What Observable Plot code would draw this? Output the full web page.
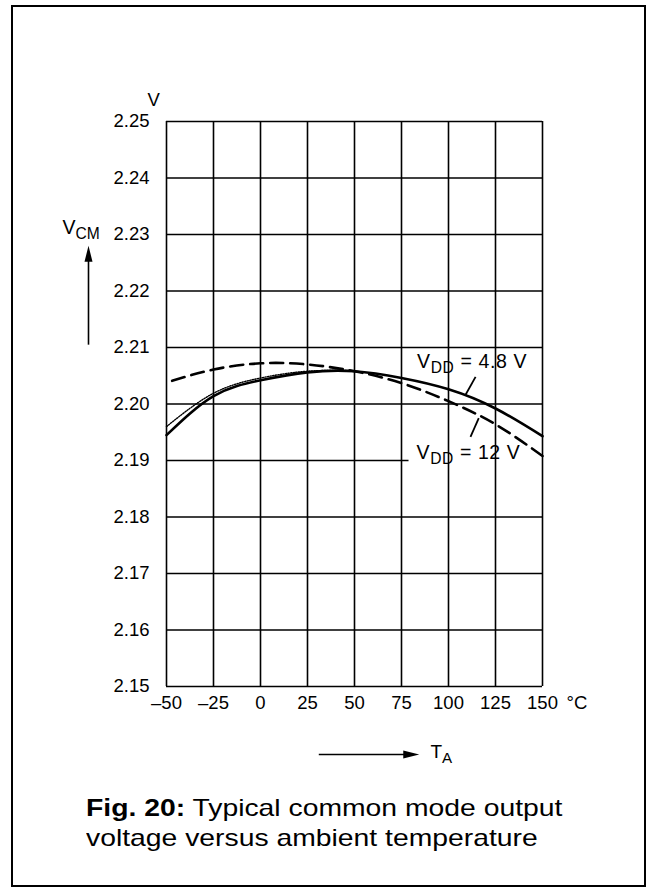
<!DOCTYPE html>
<html>
<head>
<meta charset="utf-8">
<script src="https://cdn.jsdelivr.net/npm/d3@7"></script>
<script src="https://cdn.jsdelivr.net/npm/@observablehq/plot@0.6"></script>
<style>
  html, body { margin: 0; padding: 0; background: #fff; }
  #page { position: relative; width: 657px; height: 892px; overflow: hidden; }
  #chart { position: absolute; left: 0; top: 0; }
  #border { position: absolute; left: 11px; top: 5px; width: 635px; height: 882px;
            border: 2px solid #000; box-sizing: border-box; z-index: 2; pointer-events: none; }
  #caption { position: absolute; left: 86px; top: 793px; white-space: nowrap;
             font-family: "Liberation Sans", Arial, sans-serif; font-size: 24px; line-height: 30px;
             color: #000; transform: scaleX(1.18); transform-origin: left top; }
  #caption b { font-weight: bold; }
</style>
</head>
<body>
<div id="page">
  <div id="chart"></div>
  <div id="border"></div>
  <div id="caption"><b>Fig. 20:</b> Typical common mode output<br>voltage versus ambient temperature</div>
</div>
<script>
// ---- data ----
const temps48 = [-50, -25, 0, 25, 50, 75, 100, 125, 150];
const vcm48   = [2.1945, 2.2014, 2.2042, 2.2056, 2.2058, 2.2046, 2.2026, 2.1992, 2.1943];

const temps12 = [-47, -25, 0, 25, 50, 75, 100, 125, 150];
const vcm12   = [2.2041, 2.2061, 2.2072, 2.2070, 2.2058, 2.2037, 2.2005, 2.1964, 2.1908];

const tempsDotted = [-50, -25, 0, 25, 50];
const vcmDotted   = [2.1960, 2.2019, 2.2046, 2.2058, 2.2059];

const xTicks = [-50, -25, 0, 25, 50, 75, 100, 125, 150];
const yTicks = [2.15, 2.16, 2.17, 2.18, 2.19, 2.20, 2.21, 2.22, 2.23, 2.24, 2.25];

const curveLabels = ["V{DD} = 4.8 V", "V{DD} = 12 V"];
const labelT = [83.3, 83.0];
const labelV = [2.2075, 2.1914];
const leaderT1 = [114.4, 116.1];
const leaderV1 = [2.2048, 2.1975];
const leaderT2 = [109.0, 111.7];
const leaderV2 = [2.2016, 2.1942];

// gap in the 2.19 grid line behind the "12 V" label
const maskT = [79, 150];
const maskV = [2.1896, 2.1904];

// axis arrows
const vcmArrowV = [2.2105, 2.2258];
const vcmHeadV = 2.2266;
const taArrowT = [31, 78];
const taHeadT = 80.2;
const taLabelT = 90.4;

// ---- build ----
const font = '"Liberation Sans", Arial, sans-serif';
const line = (T, V) => T.map((t, i) => ({t, v: V[i]}));

const arrowHead = {
  draw(ctx, size) {
    const r = Math.sqrt(size / Math.PI);
    ctx.moveTo(0, -1.6 * r);
    ctx.lineTo(0.8 * r, 1.6 * r);
    ctx.lineTo(-0.8 * r, 1.6 * r);
    ctx.closePath();
  }
};

const labels = curveLabels.map((s, i) => ({s, t: labelT[i], v: labelV[i]}));
const leaders = leaderT1.map((t, i) => ({t1: t, v1: leaderV1[i], t2: leaderT2[i], v2: leaderV2[i]}));

const chart = Plot.plot({
  width: 657,
  height: 780,
  marginLeft: 166,
  marginRight: 115,
  marginTop: 121,
  marginBottom: 94,
  style: {fontFamily: font, fontSize: "18.5px", color: "#000", background: "transparent"},
  x: {domain: [-50, 150], ticks: xTicks, tickSize: 0, tickPadding: 9,
      tickFormat: d => d < 0 ? "\u2013" + Math.abs(d) : String(d), label: null},
  y: {domain: [2.15, 2.25], ticks: yTicks, tickSize: 0, tickPadding: 17,
      tickFormat: d => d.toFixed(2), label: null},
  marks: [
    Plot.ruleY(yTicks, {stroke: "#000", strokeWidth: 1.6}),
    Plot.rect([{x1: maskT[0], x2: maskT[1], y1: maskV[0], y2: maskV[1]}],
      {x1: "x1", x2: "x2", y1: "y1", y2: "y2", fill: "#fff"}),
    Plot.ruleX(xTicks, {stroke: "#000", strokeWidth: 1.6}),
    Plot.line(line(tempsDotted, vcmDotted), {x: "t", y: "v", curve: "natural",
      stroke: "#000", strokeWidth: 1.4, strokeDasharray: "1.2 1.4"}),
    Plot.line(line(temps48, vcm48), {x: "t", y: "v", curve: "natural",
      stroke: "#000", strokeWidth: 2.6}),
    Plot.line(line(temps12, vcm12), {x: "t", y: "v", curve: "natural",
      stroke: "#000", strokeWidth: 2.6, strokeDasharray: "13 7"}),
    Plot.link(leaders, {x1: "t1", y1: "v1", x2: "t2", y2: "v2", stroke: "#000", strokeWidth: 1.8}),
    Plot.text(labels, {x: "t", y: "v", text: "s", textAnchor: "start", lineAnchor: "middle",
      fontSize: 19.5, fill: "#000"}),
    // unit labels
    Plot.text(["V"], {text: d => d, frameAnchor: "top-left", dx: -19, dy: -21,
      lineAnchor: "middle", fontSize: 18.5}),
    Plot.text(["\u00b0C"], {text: d => d, frameAnchor: "bottom-right", dx: 24, dy: 9,
      textAnchor: "start", lineAnchor: "top", fontSize: 18.5}),
    // V_CM axis title and arrow
    Plot.text(["V{CM}"], {text: d => d, y: () => 2.23, frameAnchor: "left", dx: -104, dy: -7,
      textAnchor: "start", lineAnchor: "middle", fontSize: 19.5}),
    Plot.link([{}], {x1: () => -50, x2: () => -50, y1: () => vcmArrowV[0], y2: () => vcmArrowV[1],
      dx: -78, stroke: "#000", strokeWidth: 1.6}),
    Plot.dot([{}], {x: () => -50, y: () => vcmHeadV, dx: -78, symbol: arrowHead, r: 5,
      fill: "#000", stroke: "none"}),
    // T_A axis title and arrow
    Plot.link([{}], {x1: () => taArrowT[0], x2: () => taArrowT[1], y1: () => 2.15, y2: () => 2.15,
      dy: 68, stroke: "#000", strokeWidth: 1.6}),
    Plot.dot([{}], {x: () => taHeadT, y: () => 2.15, dy: 68, symbol: arrowHead, r: 5, rotate: 90,
      fill: "#000", stroke: "none"}),
    Plot.text(["T{A}"], {text: d => d, x: () => taLabelT, y: () => 2.15, dy: 65,
      textAnchor: "start", lineAnchor: "middle", fontSize: 19})
  ]
});

// subscripts: "V{DD}" -> V with subscript DD
d3.select(chart).selectAll("text").each(function () {
  const s = this.textContent;
  if (!s.includes("{")) return;
  const sel = d3.select(this);
  const parts = s.split(/(\{[^}]*\})/).filter(p => p);
  sel.text(null);
  let shifted = false;
  for (const p of parts) {
    if (p.startsWith("{")) {
      sel.append("tspan").attr("dy", 5).attr("font-size", "0.8em").text(p.slice(1, -1));
      shifted = true;
    } else {
      const t = sel.append("tspan").text(p);
      if (shifted) { t.attr("dy", -5); shifted = false; }
    }
  }
  if (s.startsWith("V{DD}")) sel.style("letter-spacing", "0.6px");
});

document.getElementById("chart").appendChild(chart);
</script>
</body>
</html>
